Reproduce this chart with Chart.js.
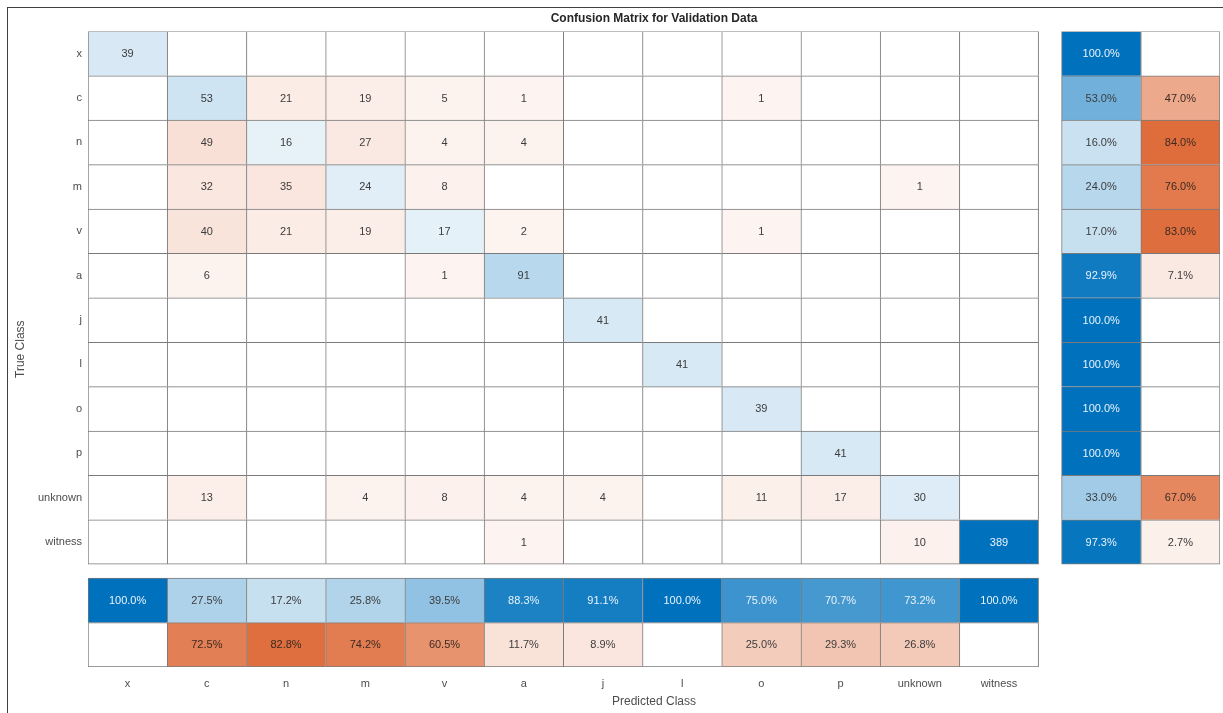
<!DOCTYPE html>
<html>
<head>
<meta charset="utf-8">
<title>Confusion Matrix for Validation Data</title>
<script src="https://cdn.jsdelivr.net/npm/chart.js@4.4.1/dist/chart.umd.min.js"></script>
<style>
  html, body { margin: 0; padding: 0; background: #fff; overflow: hidden; }
  #wrap { position: relative; width: 1223px; height: 713px; }
  #frame { position: absolute; left: 7px; top: 7px; width: 1400px; height: 900px;
           border-left: 1px solid #404040; border-top: 1px solid #404040; }
  #chart { position: absolute; left: 0; top: 0; }
</style>
</head>
<body>
<div id="wrap">
  <div id="frame"></div>
  <canvas id="chart" width="1223" height="713"></canvas>
</div>
<script>
// Classi (stesse per righe e colonne)
const classes = ['x', 'c', 'n', 'm', 'v', 'a', 'j', 'l', 'o', 'p', 'unknown', 'witness'];

// Conteggi: una riga per classe vera, una colonna per classe predetta
const rowX       = [39, 0, 0, 0, 0, 0, 0, 0, 0, 0, 0, 0];
const rowC       = [0, 53, 21, 19, 5, 1, 0, 0, 1, 0, 0, 0];
const rowN       = [0, 49, 16, 27, 4, 4, 0, 0, 0, 0, 0, 0];
const rowM       = [0, 32, 35, 24, 8, 0, 0, 0, 0, 0, 1, 0];
const rowV       = [0, 40, 21, 19, 17, 2, 0, 0, 1, 0, 0, 0];
const rowA       = [0, 6, 0, 0, 1, 91, 0, 0, 0, 0, 0, 0];
const rowJ       = [0, 0, 0, 0, 0, 0, 41, 0, 0, 0, 0, 0];
const rowL       = [0, 0, 0, 0, 0, 0, 0, 41, 0, 0, 0, 0];
const rowO       = [0, 0, 0, 0, 0, 0, 0, 0, 39, 0, 0, 0];
const rowP       = [0, 0, 0, 0, 0, 0, 0, 0, 0, 41, 0, 0];
const rowUnknown = [0, 13, 0, 4, 8, 4, 4, 0, 11, 17, 30, 0];
const rowWitness = [0, 0, 0, 0, 0, 1, 0, 0, 0, 0, 10, 389];
const counts = [rowX, rowC, rowN, rowM, rowV, rowA, rowJ, rowL, rowO, rowP, rowUnknown, rowWitness];

// Riepilogo per riga (a destra), in percentuale
const rowCorrect = [100.0, 53.0, 16.0, 24.0, 17.0, 92.9, 100.0, 100.0, 100.0, 100.0, 33.0, 97.3];
const rowWrong   = [null, 47.0, 84.0, 76.0, 83.0, 7.1, null, null, null, null, 67.0, 2.7];

// Riepilogo per colonna (in basso), in percentuale
const colCorrect = [100.0, 27.5, 17.2, 25.8, 39.5, 88.3, 91.1, 100.0, 75.0, 70.7, 73.2, 100.0];
const colWrong   = [null, 72.5, 82.8, 74.2, 60.5, 11.7, 8.9, null, 25.0, 29.3, 26.8, null];

// Spazi tra matrice e riepiloghi (in unità di cella)
const gapX = 0.29;
const gapY = 0.315;

const BLUE = [0, 114, 189];
const ORANGE = [217, 83, 25];
const FONT = '"Liberation Sans", Arial, Helvetica, sans-serif';

function mix(rgb, t) {
    const c = rgb.map(v => Math.round(255 + (v - 255) * t));
    return `rgb(${c[0]}, ${c[1]}, ${c[2]})`;
}

// intensità del colore: piccolo minimo per le celle non vuote
function shade(v, max) {
    return v ? 0.06 + 0.94 * v / max : 0;
}

function fmtPct(p) {
    return p === null ? '' : p.toFixed(1) + '%';
}

const maxCount = Math.max(...counts.flat());
const n = classes.length;

// Celle della matrice principale
const mainCells = [];
counts.forEach((row, r) => {
    row.forEach((v, c) => {
        mainCells.push({
            x: c + 0.5, y: [r, r + 1],
            t: shade(v, maxCount), hue: r === c ? BLUE : ORANGE,
            text: v ? String(v) : '',
            lastC: c === n - 1, lastR: r === n - 1
        });
    });
});

// Celle del riepilogo a destra
const rowCells = [];
classes.forEach((cls, r) => {
    [rowCorrect[r], rowWrong[r]].forEach((p, k) => {
        rowCells.push({
            x: n + gapX + k + 0.5, y: [r, r + 1],
            t: shade(p, 100), hue: k === 0 ? BLUE : ORANGE,
            text: fmtPct(p),
            lastC: k === 1, lastR: r === n - 1
        });
    });
});

// Celle del riepilogo in basso
const colCells = [];
classes.forEach((cls, c) => {
    [colCorrect[c], colWrong[c]].forEach((p, k) => {
        colCells.push({
            x: c + 0.5, y: [n + gapY + k, n + gapY + k + 1],
            t: shade(p, 100), hue: k === 0 ? BLUE : ORANGE,
            text: fmtPct(p),
            lastC: c === n - 1, lastR: k === 1
        });
    });
});

function cellDataset(label, data) {
    return {
        label,
        data,
        grouped: false,
        barPercentage: 1,
        categoryPercentage: 1,
        borderSkipped: false,
        borderColor: '#7a7a7a',
        borderWidth: ctx => {
            if (!ctx.raw) return 1;
            return { left: 1, top: 1, right: ctx.raw.lastC ? 1 : 0, bottom: ctx.raw.lastR ? 1 : 0 };
        },
        backgroundColor: ctx => ctx.raw ? mix(ctx.raw.hue, ctx.raw.t) : '#fff'
    };
}

// Scrive il valore al centro di ogni cella
const cellLabels = {
    id: 'cellLabels',
    afterDatasetsDraw(chart) {
        const ctx = chart.ctx;
        ctx.save();
        ctx.font = '11px ' + FONT;
        ctx.textAlign = 'center';
        ctx.textBaseline = 'middle';
        chart.data.datasets.forEach((ds, i) => {
            chart.getDatasetMeta(i).data.forEach((bar, j) => {
                const cell = ds.data[j];
                if (!cell.text) return;
                const { x, y } = bar.getCenterPoint();
                if (cell.hue === BLUE && cell.t > 0.6) ctx.fillStyle = '#e9f2fb';
                else if (cell.hue === ORANGE && cell.t > 0.4) ctx.fillStyle = '#3b2a22';
                else ctx.fillStyle = '#3c3c3c';
                ctx.fillText(cell.text, x, y + 0.5);
            });
        });
        ctx.restore();
    }
};

Chart.defaults.font.family = FONT;

new Chart(document.getElementById('chart').getContext('2d'), {
    type: 'bar',
    data: {
        datasets: [
            cellDataset('Matrice', mainCells),
            cellDataset('Riepilogo righe', rowCells),
            cellDataset('Riepilogo colonne', colCells)
        ]
    },
    options: {
        responsive: false,
        animation: false,
        devicePixelRatio: 1,
        layout: { padding: { top: 0, right: 3, bottom: 0, left: 0 } },
        plugins: {
            legend: { display: false },
            tooltip: { enabled: false },
            title: {
                display: true,
                text: 'Confusion Matrix for Validation Data',
                fullSize: false,
                color: '#262626',
                font: { size: 12, weight: 'bold' },
                padding: { top: 11, bottom: 6 }
            }
        },
        scales: {
            x: {
                type: 'linear',
                min: 0,
                max: n + gapX + 2,
                offset: false,
                grid: { display: false, drawTicks: false },
                border: { display: false },
                afterBuildTicks: s => { s.ticks = classes.map((c, i) => ({ value: i + 0.5 })); },
                afterFit: s => { s.height = 46; },
                ticks: {
                    autoSkip: false,
                    maxRotation: 0,
                    padding: 10,
                    color: '#4d4d4d',
                    font: { size: 11 },
                    callback: (v, i) => classes[i]
                },
                title: {
                    display: true,
                    text: 'Predicted Class',
                    color: '#4d4d4d',
                    font: { size: 12 },
                    padding: { top: 0, bottom: 4 }
                }
            },
            y: {
                type: 'linear',
                reverse: true,
                min: 0,
                max: n + gapY + 2,
                offset: false,
                grid: { display: false, drawTicks: false },
                border: { display: false },
                afterBuildTicks: s => { s.ticks = classes.map((c, i) => ({ value: i + 0.5 })); },
                afterFit: s => { s.width = 88; },
                ticks: {
                    autoSkip: false,
                    padding: 6,
                    color: '#4d4d4d',
                    font: { size: 11 },
                    callback: (v, i) => classes[i]
                },
                title: {
                    display: true,
                    text: 'True Class',
                    color: '#4d4d4d',
                    font: { size: 12 },
                    padding: { top: 13, bottom: 0 }
                }
            }
        }
    },
    plugins: [cellLabels]
});
</script>
</body>
</html>
